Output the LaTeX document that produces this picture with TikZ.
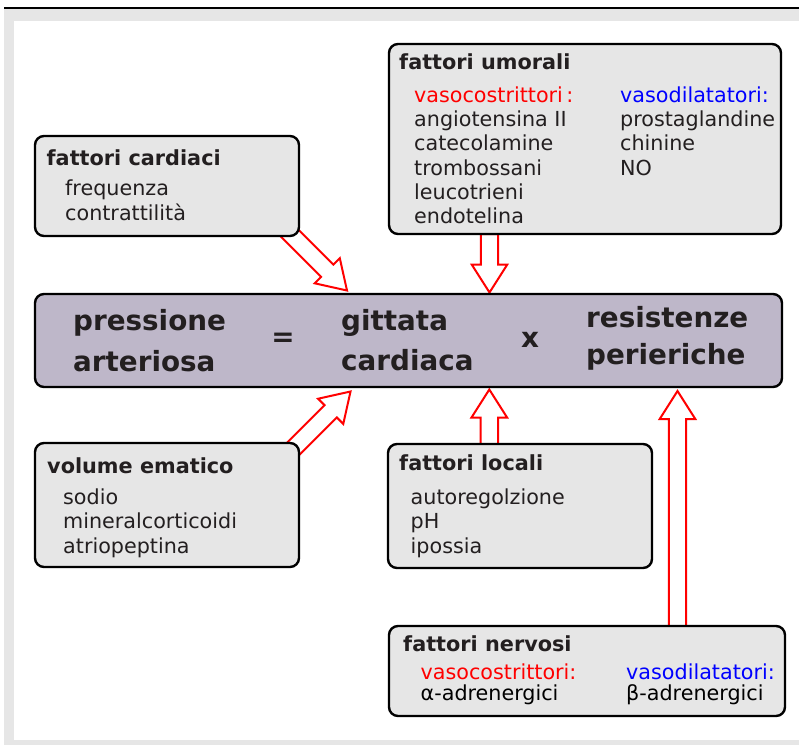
\documentclass[tikz,border=0pt]{standalone}
\usepackage{fontspec}
\setmainfont{DejaVu Sans}
\usetikzlibrary{calc}

\definecolor{ink}{RGB}{35,31,32}
\definecolor{panelgray}{RGB}{230,230,230}
\definecolor{mainfill}{RGB}{190,183,201}
\definecolor{framegray}{RGB}{230,230,230}

\tikzset{
  panel/.style={draw=black, line width=2.4pt, rounded corners=9pt, fill=panelgray,
                anchor=north west, inner sep=0pt, outer sep=0pt},
  mainbox/.style={panel, fill=mainfill},
  head/.style={anchor=base west, inner sep=0pt, text=ink, font=\fontsize{20.8}{24}\selectfont\bfseries},
  txt/.style={anchor=base west, inner sep=0pt, text=ink, font=\fontsize{20.7}{24}\selectfont},
  big/.style={anchor=base west, inner sep=0pt, text=ink, font=\fontsize{27.8}{33}\selectfont\bfseries},
  flow/.style={draw=red, line width=2pt, fill=white, line join=miter},
}

% hollow block arrow from #1 (shaft start) to #2 (tip)
\newcommand\hollowarrow[2]{%
  \coordinate (hb) at ($(#2)!28pt!(#1)$);
  \draw[flow] ($(#1)!8.7pt!90:(#2)$) -- ($(hb)!8.7pt!90:(#2)$) -- ($(hb)!17.8pt!90:(#2)$)
    -- (#2) -- ($(hb)!17.8pt!-90:(#2)$) -- ($(hb)!8.7pt!-90:(#2)$)
    -- ($(#1)!8.7pt!-90:(#2)$) -- cycle;
}

\begin{document}
\begin{tikzpicture}[x=1pt, y=-1pt]
\useasboundingbox (0,0) rectangle (799,745);

% page frame
\fill[framegray] (4,9) rectangle (799,745);
\fill[white] (14,21) rectangle (799,740);
\draw[line width=2pt] (4,8) -- (799,8);

% anchor points of the arrows
\coordinate (cardS) at (280,223.5);
\coordinate (cardT) at (347,290.5);
\coordinate (umorS) at (489.5,234);
\coordinate (umorT) at (489.5,292.5);
\coordinate (volS)  at (290,452);
\coordinate (volT)  at (350.5,391.5);
\coordinate (locS)  at (489.3,444);
\coordinate (locT)  at (489.3,389.5);
\coordinate (nervS) at (677.5,626);
\coordinate (nervT) at (677.5,391);

\hollowarrow{cardS}{cardT}
\hollowarrow{umorS}{umorT}
\hollowarrow{volS}{volT}
\hollowarrow{locS}{locT}
\hollowarrow{nervS}{nervT}

% central equation
\node[mainbox, minimum width=747pt, minimum height=93pt] (main) at (35,294) {};
\node[big] (pa1) at (73,330) {pressione};
\node[big] (pa2) at (73,371) {arteriosa};
\node[anchor=center, inner sep=0pt, text=ink, font=\fontsize{27.8}{33}\selectfont\bfseries] (eq) at (283,340) {=};
\node[big] (gc1) at (341,330) {gittata};
\node[big] (gc2) at (341,370) {cardiaca};
\node[anchor=center, inner sep=0pt, text=ink, font=\fontsize{27.8}{33}\selectfont\bfseries] (times) at (530,340) {x};
\node[big] (rp1) at (586,327) {resistenze};
\node[big] (rp2) at (586,364) {perieriche};

% fattori cardiaci
\node[panel, minimum width=264pt, minimum height=100pt] (card) at (35,136) {};
\node[head] (cardH) at (46.5,165) {fattori cardiaci};
\foreach \t [count=\i from 0] in {frequenza, contrattilità}
  \node[txt] (card-\i) at (65,{195+25*\i}) {\t};

% fattori umorali
\node[panel, minimum width=392pt, minimum height=190pt] (umor) at (389,44) {};
\node[head] (umorH) at (399,69.5) {fattori umorali};
\node[txt, text=red] (umorC) at (414,102.7) {vasocostrittori\,:};
\foreach \t [count=\i from 0] in {angiotensina II, catecolamine, trombossani, leucotrieni, endotelina}
  \node[txt] (umorc-\i) at (414,{126.7+24.15*\i}) {\t};
\node[txt, text=blue] (umorD) at (620,102.7) {vasodilatatori:};
\foreach \t [count=\i from 0] in {prostaglandine, chinine, NO}
  \node[txt] (umord-\i) at (620,{126.7+24.15*\i}) {\t};

% volume ematico
\node[panel, minimum width=264pt, minimum height=124pt] (vol) at (35,443) {};
\node[head] (volH) at (47,473.3) {volume ematico};
\foreach \t [count=\i from 0] in {sodio, mineralcorticoidi, atriopeptina}
  \node[txt] (vol-\i) at (63,{504+24.7*\i}) {\t};

% fattori locali
\node[panel, minimum width=264pt, minimum height=124pt] (loc) at (388,444) {};
\node[head] (locH) at (399,470) {fattori locali};
\foreach \t [count=\i from 0] in {autoregolzione, pH, ipossia}
  \node[txt] (loc-\i) at (410.5,{504.3+24.5*\i}) {\t};

% fattori nervosi
\node[panel, minimum width=396pt, minimum height=90pt] (nerv) at (389,626) {};
\node[head] (nervH) at (403,651.7) {fattori nervosi};
\node[txt, text=red] (nervC) at (420.5,679.3) {vasocostrittori:};
\node[txt, text=black] (nervc) at (420.5,700) {α-adrenergici};
\node[txt, text=blue] (nervD) at (626,679.3) {vasodilatatori:};
\node[txt, text=black] (nervd) at (626,700) {β-adrenergici};
\end{tikzpicture}
\end{document}
